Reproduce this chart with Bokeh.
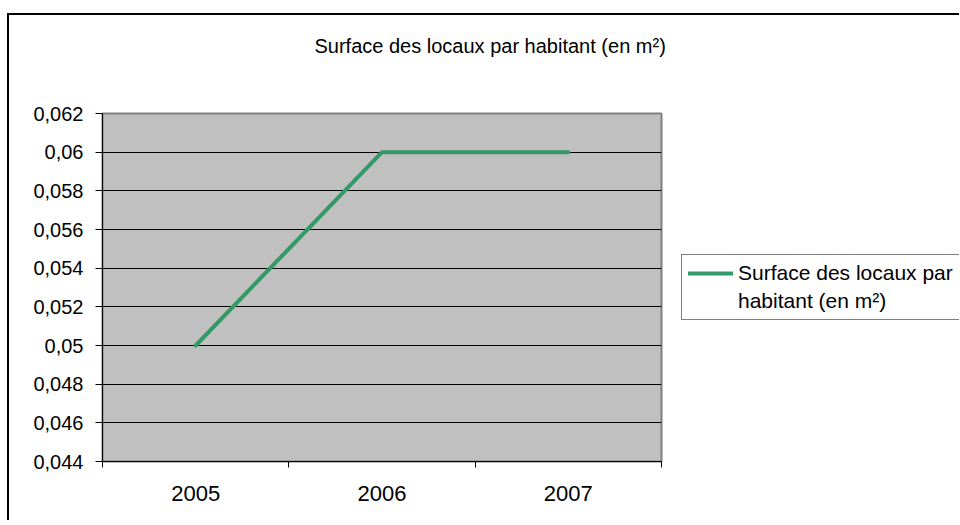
from bokeh.plotting import figure
from bokeh.layouts import row
from bokeh.models import FixedTicker, Legend, LegendItem, Title, Range1d
from bokeh.embed import file_html
from bokeh.resources import INLINE

title_text = "Surface des locaux par habitant (en m²)"
years = ["2005", "2006", "2007"]
values = [0.05, 0.06, 0.06]
y_ticks = [0.044, 0.046, 0.048, 0.05, 0.052, 0.054, 0.056, 0.058, 0.06, 0.062]
y_tick_labels = ["0,044", "0,046", "0,048", "0,05", "0,052", "0,054",
                 "0,056", "0,058", "0,06", "0,062"]
legend_lines = ["Surface des locaux par", "habitant (en m²)"]

FONT = "Liberation Sans"
LINE_COLOR = "#339966"

x_centers = [i + 0.5 for i in range(len(years))]
x_bounds = [float(i) for i in range(len(years) + 1)]

# ---------------- main chart ----------------
p = figure(width=662, height=505, output_backend="svg", toolbar_location=None,
           x_range=Range1d(0, len(years)), y_range=Range1d(y_ticks[0], y_ticks[-1]),
           min_border_left=93, min_border_right=10, min_border_top=98,
           min_border_bottom=59)

p.background_fill_color = "#C0C0C0"
p.border_fill_color = "white"
p.outline_line_color = "#808080"
p.outline_line_width = 2

r = p.line(x_centers, values, line_color=LINE_COLOR, line_width=4,
           line_cap="round", line_join="round")

# x axis: labels at category centres, tick marks at category boundaries
p.xaxis.ticker = FixedTicker(ticks=x_centers, minor_ticks=x_bounds)
p.xaxis.major_label_overrides = {c: yv for c, yv in zip(x_centers, years)}
p.xaxis.major_tick_out = 0
p.xaxis.major_tick_in = 0
p.xaxis.minor_tick_out = 6
p.xaxis.minor_tick_in = 0
p.xaxis.minor_tick_line_color = "black"
p.xaxis.major_label_standoff = 18
p.xaxis.major_label_text_font = FONT
p.xaxis.major_label_text_font_size = "22px"
p.xaxis.major_label_text_color = "black"
p.xaxis.axis_line_color = "black"

# y axis
p.yaxis.ticker = FixedTicker(ticks=y_ticks, minor_ticks=[])
p.yaxis.major_label_overrides = dict(zip(y_ticks, y_tick_labels))
p.yaxis.major_tick_out = 7
p.yaxis.major_tick_in = 0
p.yaxis.major_tick_line_color = "black"
p.yaxis.major_label_standoff = 12
p.yaxis.major_label_text_font = FONT
p.yaxis.major_label_text_font_size = "20px"
p.yaxis.major_label_text_color = "black"
p.yaxis.axis_line_color = "black"

p.xgrid.visible = False
p.ygrid.grid_line_color = "black"
p.ygrid.grid_line_width = 1
p.ygrid.grid_line_alpha = 1

# title (spacer first so the title sits higher, like the reference)
p.title.text = ""
p.add_layout(Title(text=" ", text_font_size="1px", standoff=34), "above")
p.add_layout(Title(text=title_text, align="left", offset=212, vertical_align="top",
                   standoff=36, text_font=FONT, text_font_size="20px",
                   text_font_style="normal", text_color="black"), "above")

# ---------------- legend panel ----------------
q = figure(width=288, height=505, output_backend="svg", toolbar_location=None,
           x_range=Range1d(0, 1), y_range=Range1d(0, 1),
           x_axis_location=None, y_axis_location=None, min_border=0)
q.grid.visible = False
q.outline_line_color = None
q.background_fill_color = "white"
q.border_fill_color = "white"

# legend key renderer: same series, hidden in this panel (only its key is drawn)
r_key = q.line(x_centers, values, line_color=LINE_COLOR, line_width=4,
               line_cap="round", visible=False)
r_blank = q.line(x=[], y=[], line_alpha=0)

legend = Legend(items=[LegendItem(label=legend_lines[0], renderers=[r_key]),
                       LegendItem(label=legend_lines[1], renderers=[r_blank])],
                location=(10, 141), margin=0, padding=6, spacing=4,
                glyph_width=45, glyph_height=24, label_height=24, label_standoff=5,
                label_text_font=FONT, label_text_font_size="21px",
                label_text_color="black", label_text_baseline="middle",
                border_line_color="black", border_line_width=1,
                background_fill_color="white", background_fill_alpha=1,
                inactive_fill_alpha=0)
q.add_layout(legend)

layout = row(p, q)
# outer chart-area frame (left and top edges visible, the rest runs off the window)
layout.styles = {"margin-left": "7px", "margin-top": "13px",
                 "border-left": "2px solid black", "border-top": "2px solid black"}

open("out.html", "w").write(file_html(layout, INLINE))
